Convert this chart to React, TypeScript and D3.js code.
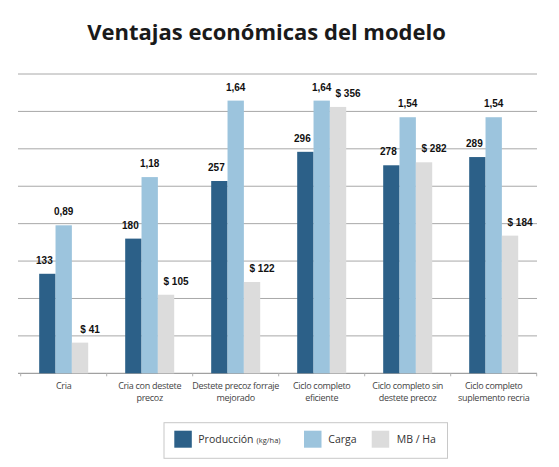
import React from "react";
import * as d3 from "d3";

const categories = [
    ["Cria"],
    ["Cria con destete", "precoz"],
    ["Destete precoz forraje", "mejorado"],
    ["Ciclo completo", "eficiente"],
    ["Ciclo completo sin", "destete precoz"],
    ["Ciclo completo", "suplemento recria"],
];
const produccion = [133, 180, 257, 296, 278, 289];
const carga = [0.89, 1.18, 1.64, 1.64, 1.54, 1.54];
const mbHa = [41, 105, 122, 356, 282, 184];
const seriesNames = ["Producción", "Carga", "MB / Ha"];

const colors = ["#2c6088", "#9cc4dd", "#dcdcdc"];

const W = 559;
const H = 467;
const margin = { top: 74, bottom: 93.7, left: 20.7, right: 22.3 };

const App: React.FC = () => {
    const idx = d3.range(categories.length);

    // category bands along the bottom
    const x = d3
        .scaleBand<number>()
        .domain(idx)
        .range([margin.left, W - margin.right])
        .padding(0);
    const bw = x.bandwidth();
    const xSub = d3
        .scaleBand<number>()
        .domain([0, 1, 2])
        .range([bw * 0.215, bw * 0.785])
        .padding(0);

    // kg/ha and $ share a scale, carga has its own
    const yMain = d3.scaleLinear().domain([0, 400]).range([H - margin.bottom, margin.top]);
    const yCarga = d3.scaleLinear().domain([0, 1.8]).range([H - margin.bottom, margin.top]);

    const grid = yMain.ticks(8);
    const base = yMain(0);
    const fmtCarga = (v: number) => d3.format(".2f")(v).replace(".", ",");

    const labelFont = "'Liberation Sans', Arial, sans-serif";
    const textFont = "'Open Sans', 'Noto Sans', sans-serif";

    return (
        <svg width={W} height={H} style={{ position: "absolute", left: 0, top: 0 }} fontFamily={textFont}>
            <rect width={W} height={H} fill="#fff" />
            <text x={266.5} y={40} textAnchor="middle" fontSize={22} fontWeight={700} fill="#1a1a1a">
                Ventajas económicas del modelo
            </text>

            {/* gridlines */}
            {grid.map((t) => (
                <line
                    key={t}
                    x1={18}
                    x2={537}
                    y1={yMain(t)}
                    y2={yMain(t)}
                    stroke={t === 0 ? "#8a8a8a" : "#a8a8a8"}
                    strokeWidth={1}
                />
            ))}
            {/* ticks between categories */}
            {d3.range(categories.length + 1).map((i) => (
                <line
                    key={i}
                    x1={margin.left + i * bw}
                    x2={margin.left + i * bw}
                    y1={base}
                    y2={base + 3}
                    stroke="#b0b0b0"
                />
            ))}

            {idx.map((i) => {
                const x0 = x(i)!;
                const vals = [
                    { y: yMain(produccion[i]), label: String(produccion[i]), dx: -3 },
                    { y: yCarga(carga[i]), label: fmtCarga(carga[i]), dx: 0 },
                    { y: yMain(mbHa[i]), label: `$ ${mbHa[i]}`, dx: 10 },
                ];
                return (
                    <g key={i}>
                        {vals.map((v, s) => (
                            <rect
                                key={s}
                                x={x0 + xSub(s)!}
                                y={v.y}
                                width={xSub.bandwidth()}
                                height={base - v.y}
                                fill={colors[s]}
                            />
                        ))}
                        {vals.map((v, s) => (
                            <text
                                key={"l" + s}
                                x={x0 + xSub(s)! + xSub.bandwidth() / 2 + v.dx}
                                y={v.y - 10}
                                textAnchor="middle"
                                fontFamily={labelFont}
                                fontWeight="bold"
                                fontSize={10}
                                fill="#111"
                            >
                                {v.label}
                            </text>
                        ))}
                        <text
                            x={x0 + bw / 2}
                            y={388.5}
                            textAnchor="middle"
                            fontSize={9}
                            letterSpacing={-0.3}
                            fill="#444"
                        >
                            {categories[i].map((line, k) => (
                                <tspan key={k} x={x0 + bw / 2} dy={k === 0 ? 0 : 12.4}>
                                    {line}
                                </tspan>
                            ))}
                        </text>
                    </g>
                );
            })}

            {/* legend */}
            <rect x={164} y={422.7} width={283.5} height={35.6} fill="#fff" stroke="#c8c8c8" />
            {[
                { x: 174.3, tx: 198.3 },
                { x: 304, tx: 328.3 },
                { x: 371.7, tx: 396.7 },
            ].map((p, s) => (
                <g key={s}>
                    <rect x={p.x} y={430.7} width={17.5} height={17} fill={colors[s]} />
                    <text x={p.tx} y={443} fontSize={10.5} fill="#333">
                        {seriesNames[s]}
                        {s === 0 && (
                            <tspan fontSize={7.5} dx={3}>
                                (kg/ha)
                            </tspan>
                        )}
                    </text>
                </g>
            ))}
        </svg>
    );
};

export default App;
